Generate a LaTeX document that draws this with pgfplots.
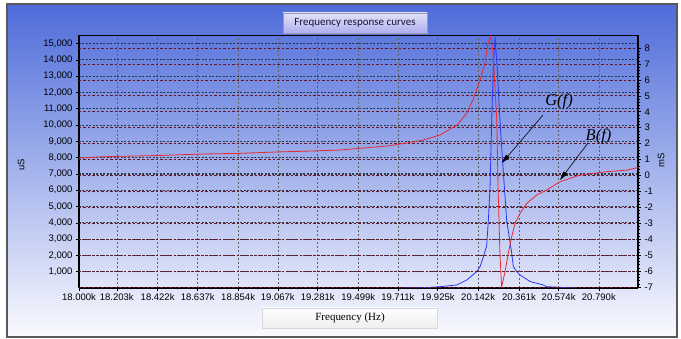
\documentclass[border=0pt]{standalone}
\usepackage{fontspec}
\setmainfont{Liberation Sans}
\newfontfamily\titlefont{Carlito}
\newfontfamily\seriffont{Liberation Serif}
\usepackage{pgfplots}
\pgfplotsset{compat=1.18}
\usetikzlibrary{arrows.meta}
\definecolor{bgtop}{RGB}{78,108,218}
\definecolor{bgmid}{RGB}{168,182,236}
\definecolor{bgbot}{RGB}{250,250,254}
\definecolor{gline}{RGB}{40,55,240}
\definecolor{bline}{RGB}{235,40,45}
\definecolor{ygridc}{RGB}{25,40,50}
\definecolor{rgridc}{RGB}{105,20,35}
\begin{document}
\begin{tikzpicture}[x=1pt,y=1pt]
\fill[white] (0,0) rectangle (681,339);
\shade[top color=bgtop, middle color=bgmid, bottom color=bgbot] (7,2) rectangle (677,335);
\draw[gray!70!black, line width=1.2pt] (7,2) rectangle (677,335);
% title box
\shade[top color={rgb,255:red,225;green,225;blue,250}, bottom color={rgb,255:red,175;green,175;blue,238}, draw={rgb,255:red,150;green,150;blue,190}, line width=0.6pt] (283,306) rectangle (427,326);
\node[font=\titlefont\fontsize{11}{13}\selectfont, text={rgb,255:red,20;green,20;blue,50}] at (355,316) {Frequency response curves};
% x label box
\shade[top color=white, bottom color={rgb,255:red,238;green,238;blue,240}, draw={rgb,255:red,215;green,215;blue,220}, line width=0.5pt] (262,11) rectangle (437,31);
\node[font=\seriffont\fontsize{11}{13}\selectfont] at (350,21) {Frequency (Hz)};
\node[rotate=90, font=\fontsize{9.5}{11}\selectfont] at (21,174) {uS};
\node[rotate=90, font=\fontsize{9.5}{11}\selectfont] at (661,179) {mS};

\begin{axis}[
  at={(79pt,51pt)}, anchor=south west,
  width=559pt, height=253pt, scale only axis,
  xmin=18, xmax=21, ymin=0, ymax=15530,
  axis x line*=bottom, axis y line*=left,
  axis line style={line width=1.4pt, -},
  xtick={18,18.203,18.422,18.637,18.854,19.067,19.281,19.499,19.711,19.925,20.142,20.361,20.574,20.790},
  xticklabels={18.000k,18.203k,18.422k,18.637k,18.854k,19.067k,19.281k,19.499k,19.711k,19.925k,20.142k,20.361k,20.574k,20.790k},
  ytick={1000,2000,3000,4000,5000,6000,7000,8000,9000,10000,11000,12000,13000,14000,15000},
  yticklabels={{1,000},{2,000},{3,000},{4,000},{5,000},{6,000},{7,000},{8,000},{9,000},{10,000},{11,000},{12,000},{13,000},{14,000},{15,000}},
  scaled y ticks=false,
  tick align=outside, major tick length=3pt,
  tick style={black, line width=0.6pt},
  ticklabel style={font=\fontsize{9.5}{11}\selectfont},
  xticklabel style={yshift=1pt},
  /pgf/number format/assume math mode=true,
  xmajorgrids, ymajorgrids,
  x grid style={gray!75!black, dash pattern=on 2pt off 2pt, line width=0.5pt},
  y grid style={ygridc, opacity=0.85, dash pattern=on 2pt off 1.5pt, line width=1.1pt},
]
\addplot[gline, line width=0.8pt] coordinates {
(19.717,0) (19.884,30) (19.937,80) (20.027,184) (20.081,491) (20.134,1000)
(20.152,1300) (20.170,1900) (20.188,2600) (20.197,4175) (20.206,6200)
(20.215,10313) (20.223,13383) (20.233,15400) (20.245,13383) (20.259,10313)
(20.274,7674) (20.295,4175) (20.322,2149) (20.331,1310) (20.350,1000)
(20.367,800) (20.420,400) (20.492,184) (20.510,80) (20.581,40) (20.673,0)
};
\draw[line width=0.6pt] (rel axis cs:0,1) -- (rel axis cs:1,1);
\end{axis}

\begin{axis}[
  at={(79pt,51pt)}, anchor=south west,
  width=559pt, height=253pt, scale only axis,
  xmin=18, xmax=21, ymin=-7.06, ymax=8.82,
  axis x line=none, axis y line*=right,
  axis line style={line width=1.4pt, -},
  ytick={-7,-6,-5,-4,-3,-2,-1,0,1,2,3,4,5,6,7,8},
  yticklabels={-7,-6,-5,-4,-3,-2,-1,0,1,2,3,4,5,6,7,8},
  minor y tick num=4,
  tick align=outside, major tick length=3pt, minor tick length=2pt,
  tick style={black, line width=0.6pt},
  ticklabel style={font=\fontsize{9.5}{11}\selectfont},
  /pgf/number format/assume math mode=true,
  ymajorgrids,
  y grid style={rgridc, dash pattern=on 2.5pt off 2pt, line width=0.8pt},
]
\addplot[bline, line width=0.8pt] coordinates {
(18.000,1.09) (18.129,1.18) (18.435,1.26) (18.665,1.35) (18.864,1.39)
(19.041,1.47) (19.277,1.55) (19.401,1.60) (19.669,1.87) (19.846,2.22)
(19.937,2.54) (20.029,3.17) (20.082,3.92) (20.114,4.74) (20.152,5.99)
(20.179,7.06) (20.195,8.31) (20.209,8.75) (20.222,7.69) (20.242,3.48)
(20.249,-0.73) (20.259,-4.87) (20.268,-7.0) (20.286,-6.06) (20.304,-4.89)
(20.322,-3.85) (20.340,-3.0) (20.367,-2.38) (20.403,-1.75) (20.456,-1.23)
(20.510,-0.91) (20.581,-0.39) (20.689,0.03) (20.832,0.24) (20.939,0.34)
(21.000,0.50)
};
\end{axis}

\draw[line width=0.6pt, -{Triangle[length=9pt,width=4.5pt]}] (543,224) -- (502,176);
\draw[line width=0.6pt, -{Triangle[length=9pt,width=4.5pt]}] (588,196) -- (560,159);
\node[font=\seriffont\itshape\fontsize{16.5}{18}\selectfont] at (559,238) {G(f)};
\node[font=\seriffont\itshape\fontsize{16.5}{18}\selectfont] at (598.5,203) {B(f)};
\end{tikzpicture}
\end{document}
